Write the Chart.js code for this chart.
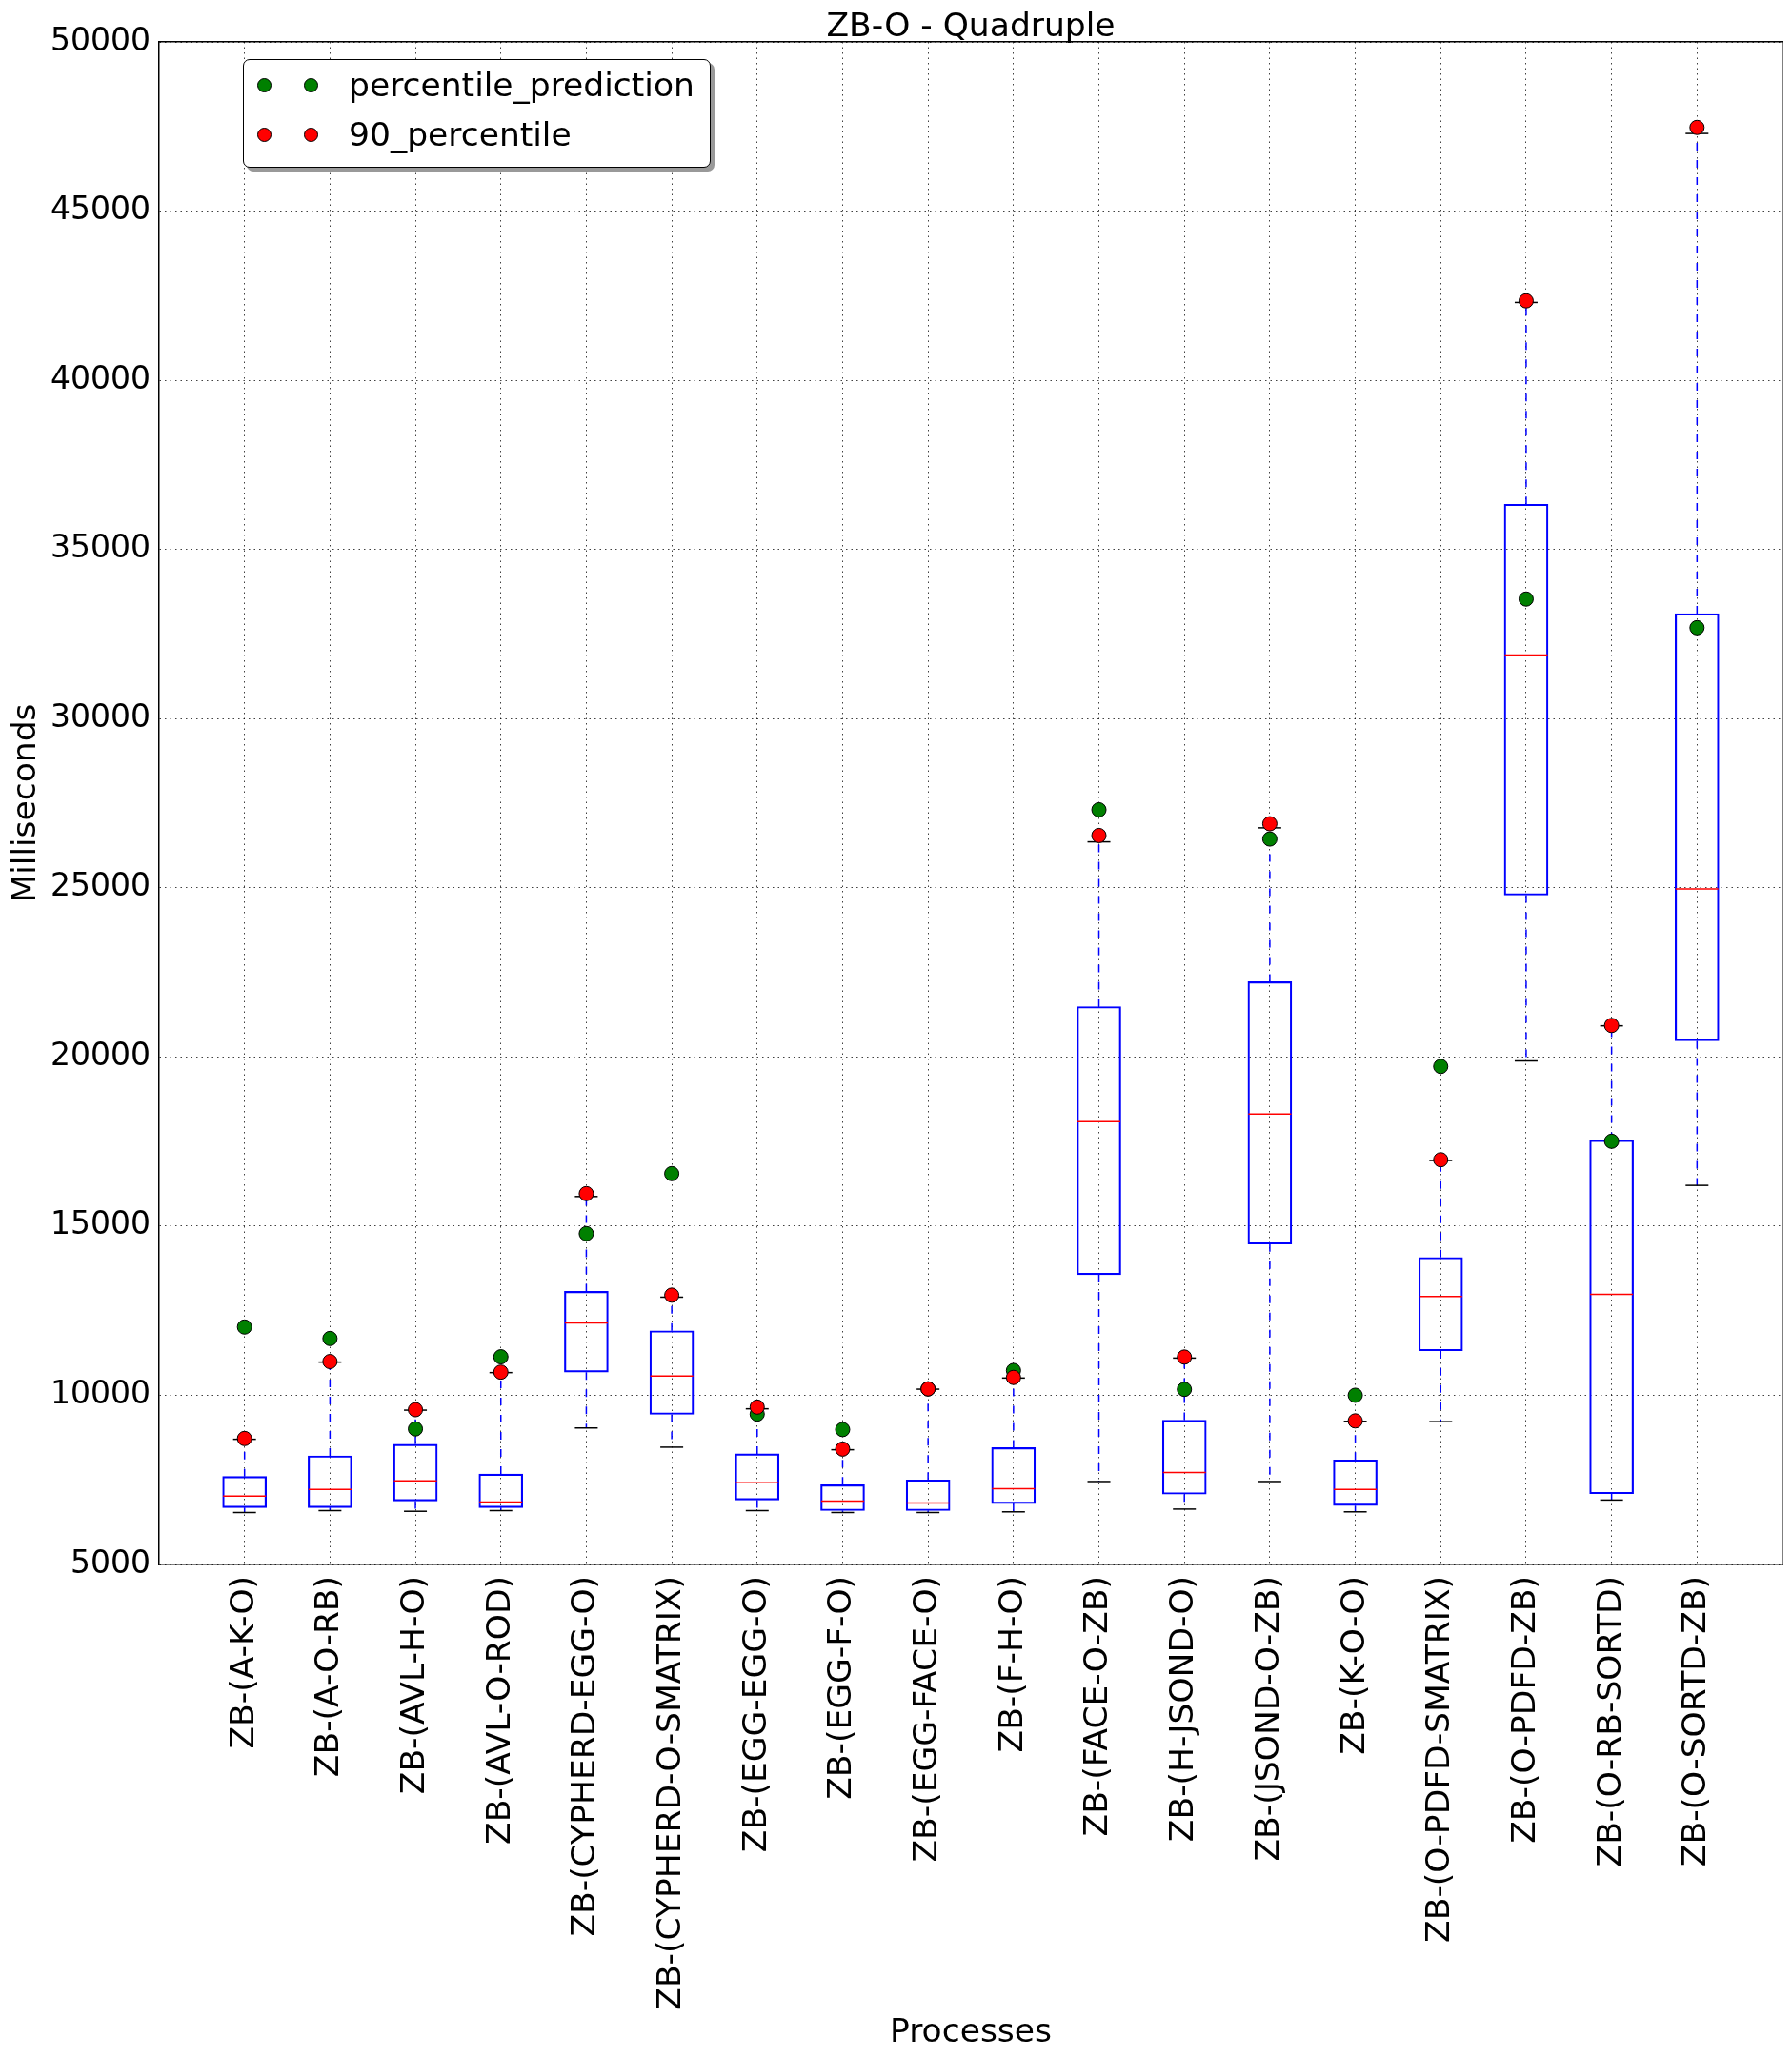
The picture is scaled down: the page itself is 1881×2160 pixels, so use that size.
<!DOCTYPE html>
<html>
<head>
<meta charset="utf-8">
<title>ZB-O - Quadruple</title>
<script src="https://cdn.jsdelivr.net/npm/chart.js@4.4.0/dist/chart.umd.min.js"></script>
<style>
  body { margin: 0; background: #fff; }
  #wrap { position: relative; width: 1881px; height: 2160px; }
  #legend {
    position: absolute; left: 255px; top: 62px; width: 491px; height: 114px;
    box-sizing: border-box; border: 1.5px solid #000; border-radius: 7px;
    background: #fff; box-shadow: 4px 4px 0 #999;
    font-family: 'DejaVu Sans'; font-size: 34.5px; color: #000;
  }
  .row { position: absolute; left: 0; width: 100%; height: 40px; line-height: 40px; }
  .dot { position: absolute; top: 12.5px; width: 15px; height: 15px; box-sizing: border-box;
         border: 1px solid #000; border-radius: 50%; }
  .lbl { position: absolute; left: 110px; white-space: nowrap; }
</style>
</head>
<body>
<div id="wrap">
  <canvas id="chart-box" width="1881" height="2160"></canvas>
  <div id="legend">
    <div class="row" style="top:6px">
      <span class="dot" style="left:14px;background:#008000"></span>
      <span class="dot" style="left:63px;background:#008000"></span>
      <span class="lbl">percentile_prediction</span>
    </div>
    <div class="row" style="top:58px">
      <span class="dot" style="left:14px;background:#ff0000"></span>
      <span class="dot" style="left:63px;background:#ff0000"></span>
      <span class="lbl">90_percentile</span>
    </div>
  </div>
</div>
<script>
var categories = ["ZB-(A-K-O)", "ZB-(A-O-RB)", "ZB-(AVL-H-O)", "ZB-(AVL-O-ROD)", "ZB-(CYPHERD-EGG-O)",
    "ZB-(CYPHERD-O-SMATRIX)", "ZB-(EGG-EGG-O)", "ZB-(EGG-F-O)", "ZB-(EGG-FACE-O)", "ZB-(F-H-O)",
    "ZB-(FACE-O-ZB)", "ZB-(H-JSOND-O)", "ZB-(JSOND-O-ZB)", "ZB-(K-O-O)", "ZB-(O-PDFD-SMATRIX)",
    "ZB-(O-PDFD-ZB)", "ZB-(O-RB-SORTD)", "ZB-(O-SORTD-ZB)"];

// box statistics (milliseconds)
var lowWhisker  = [6535, 6591, 6571, 6591, 9034, 8466, 6591, 6535, 6535, 6555, 7451, 6636, 7451, 6555, 9220, 19882, 6904, 16204];
var q1Values    = [6680, 6680, 6875, 6680, 10684, 9434, 6903, 6591, 6591, 6799, 13562, 7078, 14470, 6741, 11315, 24782, 7090, 20476];
var medians     = [7020, 7216, 7472, 6847, 12142, 10569, 7416, 6875, 6819, 7241, 18090, 7719, 18311, 7218, 12922, 31881, 12980, 24969];
var q3Values    = [7600, 8210, 8553, 7672, 13071, 11906, 8269, 7357, 7500, 8452, 21489, 9267, 22222, 8091, 14074, 36336, 17543, 33102];
var highWhisker = [8700, 10980, 9560, 10670, 15875, 12900, 9600, 8390, 10180, 10510, 26357, 11100, 26771, 9230, 16940, 42300, 20920, 47294];

var percentile90 = [8722, 10997, 9575, 10684, 15960, 12959, 9651, 8410, 10189, 10527, 26545, 11129, 26892, 9243, 16961, 42348, 20930, 47472];
var percentilePrediction = [12018, 11678, 9006, 11137, 14778, 16551, 9443, 8987, 10190, 10732, 27305, 10175, 26441, 10000, 19719, 33534, 17508, 32686];

var yMin = 5000, yMax = 50000, yStep = 5000;

function drawBoxChart() {
    Chart.defaults.font.family = "'DejaVu Sans'";
    Chart.defaults.font.size = 34.5;
    Chart.defaults.color = '#000';

    var boxes = [], whiskers = [], medianPts = [], caps = [], red = [], green = [];
    categories.forEach(function (c, i) {
        var x = i + 1;
        boxes.push({x: x, y: [q1Values[i], q3Values[i]]});
        whiskers.push({x: x, y: q3Values[i]}, {x: x, y: highWhisker[i]}, {x: x, y: null},
                      {x: x, y: q1Values[i]}, {x: x, y: lowWhisker[i]}, {x: x, y: null});
        medianPts.push({x: x, y: medians[i]});
        caps.push({x: x, y: highWhisker[i]}, {x: x, y: lowWhisker[i]});
        red.push({x: x, y: percentile90[i]});
        green.push({x: x, y: percentilePrediction[i]});
    });

    var gridColor = 'rgba(0,0,0,0.75)';
    var ctx = document.getElementById('chart-box').getContext('2d');
    new Chart(ctx, {
        type: 'bar',
        data: {
            datasets: [{
                type: 'bar', label: 'box', order: 6,
                data: boxes, barThickness: 46,
                backgroundColor: 'rgba(0,0,0,0)', borderColor: '#0000ff',
                borderWidth: 1.5, borderSkipped: false
            }, {
                type: 'line', label: 'whiskers', order: 5,
                data: whiskers, borderColor: '#0000ff', borderWidth: 1.5,
                borderDash: [8, 10], pointRadius: 0, fill: false, spanGaps: false, tension: 0
            }, {
                type: 'scatter', label: 'median', order: 4,
                data: medianPts, pointStyle: 'line', pointRadius: 22.5,
                borderColor: '#ff0000', borderWidth: 1.5
            }, {
                type: 'scatter', label: 'caps', order: 3,
                data: caps, pointStyle: 'line', pointRadius: 12,
                borderColor: '#000', borderWidth: 1.5
            }, {
                type: 'scatter', label: 'percentile_prediction', order: 2,
                data: green, pointStyle: 'circle', pointRadius: 7.5,
                backgroundColor: '#008000', borderColor: '#000', borderWidth: 1
            }, {
                type: 'scatter', label: '90_percentile', order: 1,
                data: red, pointStyle: 'circle', pointRadius: 7.5,
                backgroundColor: '#ff0000', borderColor: '#000', borderWidth: 1
            }]
        },
        options: {
            responsive: false,
            animation: false,
            devicePixelRatio: 1,
            events: [],
            layout: {padding: 0, autoPadding: false},
            plugins: {legend: {display: false}, tooltip: {enabled: false}},
            scales: {
                x: {
                    type: 'linear', position: 'bottom', min: 0, max: categories.length + 1,
                    offset: false,
                    afterBuildTicks: function (s) {
                        s.ticks = categories.map(function (c, i) { return {value: i + 1}; });
                    },
                    afterFit: function (s) {
                        s.height = 518;
                        s.paddingLeft = 0;
                        s.paddingRight = 0;
                    },
                    ticks: {
                        autoSkip: false, minRotation: 90, maxRotation: 90, padding: 12,
                        callback: function (v) { return categories[v - 1]; }
                    },
                    grid: {color: gridColor, lineWidth: 1, drawTicks: false, offset: false},
                    border: {display: true, color: '#000', width: 1.5, dash: [1.5, 4]},
                    title: {display: true, text: 'Processes', padding: {top: 0, bottom: 5}}
                },
                y: {
                    type: 'linear', position: 'left', min: yMin, max: yMax,
                    afterFit: function (s) {
                        s.width = 167;
                        s.paddingTop = 0;
                        s.paddingBottom = 0;
                    },
                    ticks: {stepSize: yStep, padding: 9, font: {size: 33},
                            callback: function (v) { return String(v); }},
                    grid: {color: gridColor, lineWidth: 1, drawTicks: false},
                    border: {display: true, color: '#000', width: 1.5, dash: [1.5, 4]},
                    title: {display: true, text: 'Milliseconds', padding: {top: 7, bottom: 0}}
                },
                x2: {
                    type: 'linear', position: 'top', display: true, min: 0, max: 1,
                    afterFit: function (s) { s.height = 44; },
                    ticks: {display: false},
                    grid: {display: false, drawTicks: false},
                    border: {display: true, color: '#000', width: 1.5},
                    title: {display: true, text: 'ZB-O - Quadruple', padding: {top: 8, bottom: 0}}
                },
                y2: {
                    type: 'linear', position: 'right', display: true, min: 0, max: 1,
                    afterFit: function (s) { s.width = 10; },
                    ticks: {display: false},
                    grid: {display: false, drawTicks: false},
                    border: {display: true, color: '#000', width: 1.5}
                }
            }
        }
    });
}

drawBoxChart();
</script>
</body>
</html>
